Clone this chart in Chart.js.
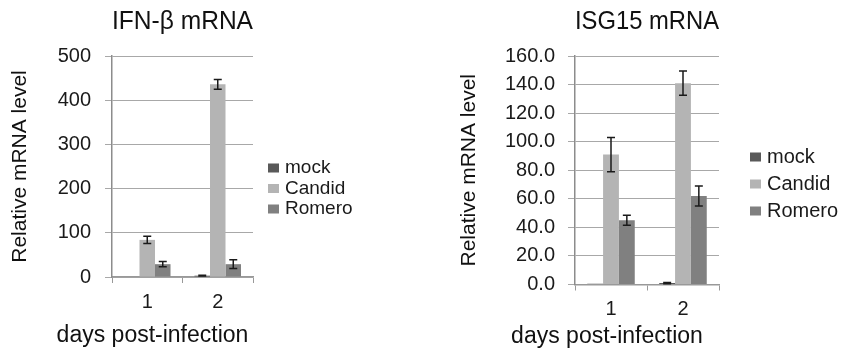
<!DOCTYPE html>
<html>
<head>
<meta charset="utf-8">
<script src="https://cdn.jsdelivr.net/npm/chart.js@4"></script>
<style>
  body { margin: 0; background: #fff; }
  .box { position: absolute; top: 0; height: 354px; }
</style>
</head>
<body>
<div class="box" style="left:0;width:420px"><canvas id="ifnChart"></canvas></div>
<div class="box" style="left:420px;width:421px"><canvas id="isgChart"></canvas></div>
<script>
// categories and series
var days = ['1', '2'];
var seriesNames = ['mock', 'Candid', 'Romero'];
var seriesColors = ['#595959', '#b4b4b4', '#808080'];
var xAxisTitle = 'days post-infection';
var yAxisTitle = 'Relative mRNA level';

// IFN-beta mRNA
var ifnMock = [0, 3];
var ifnMockErr = [0, 1];
var ifnCandid = [84, 436];
var ifnCandidErr = [8, 11];
var ifnRomero = [29, 29];
var ifnRomeroErr = [6, 10];
var ifnTicks = [0, 100, 200, 300, 400, 500];

// ISG15 mRNA
var isgMock = [0.5, 1.0];
var isgMockErr = [0, 0.4];
var isgCandid = [91, 141];
var isgCandidErr = [12, 8.5];
var isgRomero = [45, 62];
var isgRomeroErr = [3.5, 7];
var isgTicks = [0, 20, 40, 60, 80, 100, 120, 140, 160];

Chart.defaults.font.family = "'Liberation Sans', Arial, sans-serif";
Chart.defaults.color = '#1a1a1a';

// error bars drawn on top of the bars
var errorBars = {
    id: 'errorBars',
    afterDatasetsDraw: function(chart) {
        var ctx = chart.ctx;
        var y = chart.scales.y;
        ctx.save();
        ctx.strokeStyle = '#1a1a1a';
        ctx.lineWidth = 1.5;
        chart.data.datasets.forEach(function(ds, i) {
            var meta = chart.getDatasetMeta(i);
            meta.data.forEach(function(bar, j) {
                var e = ds.errors[j];
                if (!e) return;
                var top = y.getPixelForValue(ds.data[j] + e);
                var bot = y.getPixelForValue(Math.max(0, ds.data[j] - e));
                ctx.beginPath();
                ctx.moveTo(bar.x, top); ctx.lineTo(bar.x, bot);
                ctx.moveTo(bar.x - 4, top); ctx.lineTo(bar.x + 4, top);
                ctx.moveTo(bar.x - 4, bot); ctx.lineTo(bar.x + 4, bot);
                ctx.stroke();
            });
        });
        ctx.restore();
    }
};

// legend to the right of the plot, x title under the axis
var sideLegend = {
    id: 'sideLegend',
    afterDraw: function(chart, args, opts) {
        var ctx = chart.ctx;
        var area = chart.chartArea;
        ctx.save();
        ctx.font = opts.fontSize + "px 'Liberation Sans', Arial, sans-serif";
        ctx.textBaseline = 'middle';
        chart.data.datasets.forEach(function(ds, i) {
            var cy = opts.top + i * opts.gap;
            ctx.fillStyle = ds.backgroundColor;
            ctx.fillRect(area.right + opts.dx, cy - 4.5, 11, 9);
            ctx.fillStyle = '#1a1a1a';
            ctx.fillText(ds.label, area.right + opts.dx + 17, cy);
        });
        // x axis title (wider than the plot, so not clipped to the scale)
        ctx.font = "23px 'Liberation Sans', Arial, sans-serif";
        ctx.textAlign = 'center';
        ctx.fillStyle = '#111';
        ctx.fillText(xAxisTitle, (area.left + area.right) / 2 + opts.titleDx, opts.titleY);
        ctx.restore();
    }
};

function makeDatasets(values, errors) {
    return seriesNames.map(function(name, i) {
        return {
            label: name,
            data: values[i],
            errors: errors[i],
            backgroundColor: seriesColors[i],
            categoryPercentage: 0.66,
            barPercentage: 1.0
        };
    });
}

function makeOptions(cfg) {
    return {
        responsive: true,
        maintainAspectRatio: false,
        animation: false,
        layout: { padding: { left: 0, right: cfg.padRight, top: 0, bottom: 0 } },
        plugins: {
            legend: { display: false },
            tooltip: { enabled: false },
            title: {
                display: true,
                text: cfg.title,
                fullSize: false,
                color: '#111',
                font: { size: 25, weight: 'normal' },
                padding: { top: 7, bottom: 19 }
            },
            sideLegend: cfg.legend
        },
        scales: {
            x: {
                afterFit: function(scale) { scale.height = cfg.xHeight; },
                grid: { drawOnChartArea: false, drawTicks: true, tickLength: 6, color: '#999' },
                border: { color: '#999', width: 1.5 },
                ticks: { font: { size: 20 }, padding: 7, color: '#1a1a1a' }
            },
            y: {
                min: 0,
                max: cfg.ticks[cfg.ticks.length - 1],
                afterFit: function(scale) { scale.width = cfg.yWidth; },
                afterBuildTicks: function(scale) {
                    scale.ticks = cfg.ticks.map(function(v) { return { value: v }; });
                },
                grid: { color: '#a8a8a8', lineWidth: 1, tickLength: 7 },
                border: { color: '#8c8c8c', width: 1.5 },
                ticks: {
                    font: { size: 20 },
                    padding: cfg.tickPad,
                    color: '#1a1a1a',
                    callback: cfg.fmt
                },
                title: {
                    display: true,
                    text: yAxisTitle,
                    font: { size: 21 },
                    color: '#111',
                    padding: { top: cfg.yTitlePad, bottom: 0 }
                }
            }
        }
    };
}

new Chart(document.getElementById('ifnChart').getContext('2d'), {
    type: 'bar',
    data: {
        labels: days,
        datasets: makeDatasets([ifnMock, ifnCandid, ifnRomero], [ifnMockErr, ifnCandidErr, ifnRomeroErr])
    },
    options: makeOptions({
        title: 'IFN-\u03B2 mRNA',
        ticks: ifnTicks,
        fmt: function(v) { return v.toFixed(0); },
        padRight: 167,
        yWidth: 112,
        xHeight: 77,
        yTitlePad: 8,
        tickPad: 14,
        legend: { dx: 15, top: 168, gap: 20.5, fontSize: 19, titleDx: -30, titleY: 336 }
    }),
    plugins: [errorBars, sideLegend]
});

new Chart(document.getElementById('isgChart').getContext('2d'), {
    type: 'bar',
    data: {
        labels: days,
        datasets: makeDatasets([isgMock, isgCandid, isgRomero], [isgMockErr, isgCandidErr, isgRomeroErr])
    },
    options: makeOptions({
        title: 'ISG15 mRNA',
        ticks: isgTicks,
        fmt: function(v) { return v.toFixed(1); },
        padRight: 122,
        yWidth: 155,
        xHeight: 69.5,
        yTitlePad: 37,
        tickPad: 13,
        legend: { dx: 31, top: 157, gap: 27, fontSize: 20, titleDx: -40, titleY: 337 }
    }),
    plugins: [errorBars, sideLegend]
});
</script>
</body>
</html>
